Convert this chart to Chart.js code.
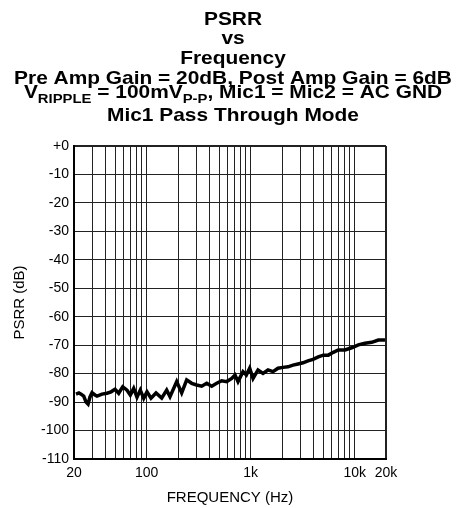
<!DOCTYPE html>
<html>
<head>
<meta charset="utf-8">
<script src="https://cdn.jsdelivr.net/npm/chart.js@4"></script>
<style>
    body { margin: 0; background: #fff; }
    #wrap { width: 460px; height: 508px; }
</style>
</head>
<body>
<div id="wrap"><canvas id="chart" width="460" height="508"></canvas></div>
<script>
const freqHz = [20.9, 22.3, 23.4, 24.8, 26.1, 27.3, 28.5, 29.8, 31.8, 33.3,
    37.2, 41.5, 45.4, 49.6, 53.8, 58.8, 64.7, 69.6, 75.0, 80.7,
    86.8, 93.6, 100.7, 110, 122.9, 139.4, 155.7, 167.6, 194.3, 217,
    242.4, 270.8, 302.6, 338, 377.6, 421.8, 471, 526, 588, 657,
    707, 755, 843, 908, 978, 1053, 1176, 1313, 1467, 1638,
    1830, 2044, 2283, 2551, 2850, 3184, 3556, 3972, 4467, 4990,
    5575, 6227, 6956, 8068, 9358, 10840, 12560, 14580, 16870, 19550];
const psrrDb = [-87.2, -86.8, -87.2, -87.9, -90.0, -90.7, -88.2, -86.7, -87.5, -87.9,
    -87.2, -86.9, -86.4, -85.5, -86.9, -84.6, -85.8, -87.5, -85.2, -88.3,
    -85.8, -88.7, -86.4, -88.6, -86.8, -88.6, -85.8, -88.1, -82.8, -86.8,
    -82.2, -83.4, -84.0, -84.4, -83.4, -84.4, -83.4, -82.5, -82.8, -81.7,
    -80.5, -82.8, -79.3, -80.5, -78.1, -81.7, -78.7, -79.9, -78.7, -79.3,
    -78.1, -77.8, -77.6, -77.0, -76.6, -76.2, -75.5, -75.0, -74.1, -73.5,
    -73.5, -72.5, -71.7, -71.7, -70.9, -69.9, -69.3, -69.0, -68.2, -68.2];

const freqGrid = [20, 30, 40, 50, 60, 70, 80, 90,
    100, 200, 300, 400, 500, 600, 700, 800, 900,
    1000, 2000, 3000, 4000, 5000, 6000, 7000, 8000, 9000,
    10000, 20000];
const freqLabels = { 20: '20', 100: '100', 1000: '1k', 10000: '10k', 20000: '20k' };

// title lines; each is a list of [text, isSubscript]
const titleLines = [
    [['PSRR', false]],
    [['vs', false]],
    [['Frequency', false]],
    [['Pre Amp Gain = 20dB, Post Amp Gain = 6dB', false]],
    [['V', false], ['RIPPLE', true], [' = 100mV', false], ['P-P', true], [', Mic1 = Mic2 = AC GND', false]],
    [['Mic1 Pass Through Mode', false]]
];
const titleBaselines = [25, 44, 64, 84, 98, 121];

const FONT = "'Liberation Sans', Arial, sans-serif";

const titlePlugin = {
    id: 'stackedTitle',
    afterDraw(chart) {
        const ctx = chart.ctx;
        const sx = 1.1; // the original lettering is a little wide
        ctx.save();
        ctx.fillStyle = '#000';
        ctx.textBaseline = 'alphabetic';
        ctx.textAlign = 'left';
        const mainFont = 'bold 19px ' + FONT;
        const subFont = 'bold 13.5px ' + FONT;
        titleLines.forEach((parts, i) => {
            let total = 0;
            parts.forEach(p => {
                ctx.font = p[1] ? subFont : mainFont;
                total += ctx.measureText(p[0]).width * sx;
            });
            let x = 233 - total / 2;
            parts.forEach(p => {
                ctx.font = p[1] ? subFont : mainFont;
                ctx.save();
                ctx.translate(x, titleBaselines[i] + (p[1] ? 5 : 0));
                ctx.scale(sx, 1);
                ctx.fillText(p[0], 0, 0);
                ctx.restore();
                x += ctx.measureText(p[0]).width * sx;
            });
        });
        ctx.restore();
    }
};

const points = freqHz.map((f, i) => ({ x: f, y: psrrDb[i] }));

new Chart(document.getElementById('chart'), {
    type: 'line',
    data: {
        datasets: [{
            data: points,
            borderColor: '#000',
            borderWidth: 3.5,
            pointRadius: 0,
            tension: 0,
            fill: false
        }]
    },
    options: {
        responsive: false,
        animation: false,
        layout: { padding: { top: 146, right: 74, left: 0, bottom: 0 } },
        plugins: {
            legend: { display: false },
            tooltip: { enabled: false }
        },
        scales: {
            x: {
                type: 'logarithmic',
                min: 20,
                max: 20000,
                afterBuildTicks: scale => {
                    scale.ticks = freqGrid.map(v => ({ value: v }));
                },
                afterFit: scale => { scale.height = 49; },
                ticks: {
                    autoSkip: false,
                    maxRotation: 0,
                    padding: 6,
                    color: '#000',
                    font: { family: FONT, size: 14 },
                    callback: value => freqLabels[value] || ''
                },
                grid: {
                    color: '#222',
                    lineWidth: c => (c.tick && c.tick.value === 20000 ? 2 : 1),
                    drawTicks: false
                },
                border: { color: '#000', width: 2 },
                title: {
                    display: true,
                    text: 'FREQUENCY (Hz)',
                    color: '#000',
                    font: { family: FONT, size: 15 },
                    padding: { top: 0, bottom: 1 }
                }
            },
            y: {
                min: -110,
                max: 0,
                afterFit: scale => { scale.width = 74; },
                ticks: {
                    stepSize: 10,
                    padding: 5,
                    color: '#000',
                    font: { family: FONT, size: 14 },
                    callback: value => (value === 0 ? '+0' : String(value))
                },
                grid: {
                    color: '#222',
                    lineWidth: c => (c.tick && c.tick.value === 0 ? 2 : 1),
                    drawTicks: false
                },
                border: { color: '#000', width: 2 },
                title: {
                    display: true,
                    text: 'PSRR (dB)',
                    color: '#000',
                    font: { family: FONT, size: 15 },
                    padding: { top: 11, bottom: 0 }
                }
            }
        }
    },
    plugins: [titlePlugin]
});
</script>
</body>
</html>
